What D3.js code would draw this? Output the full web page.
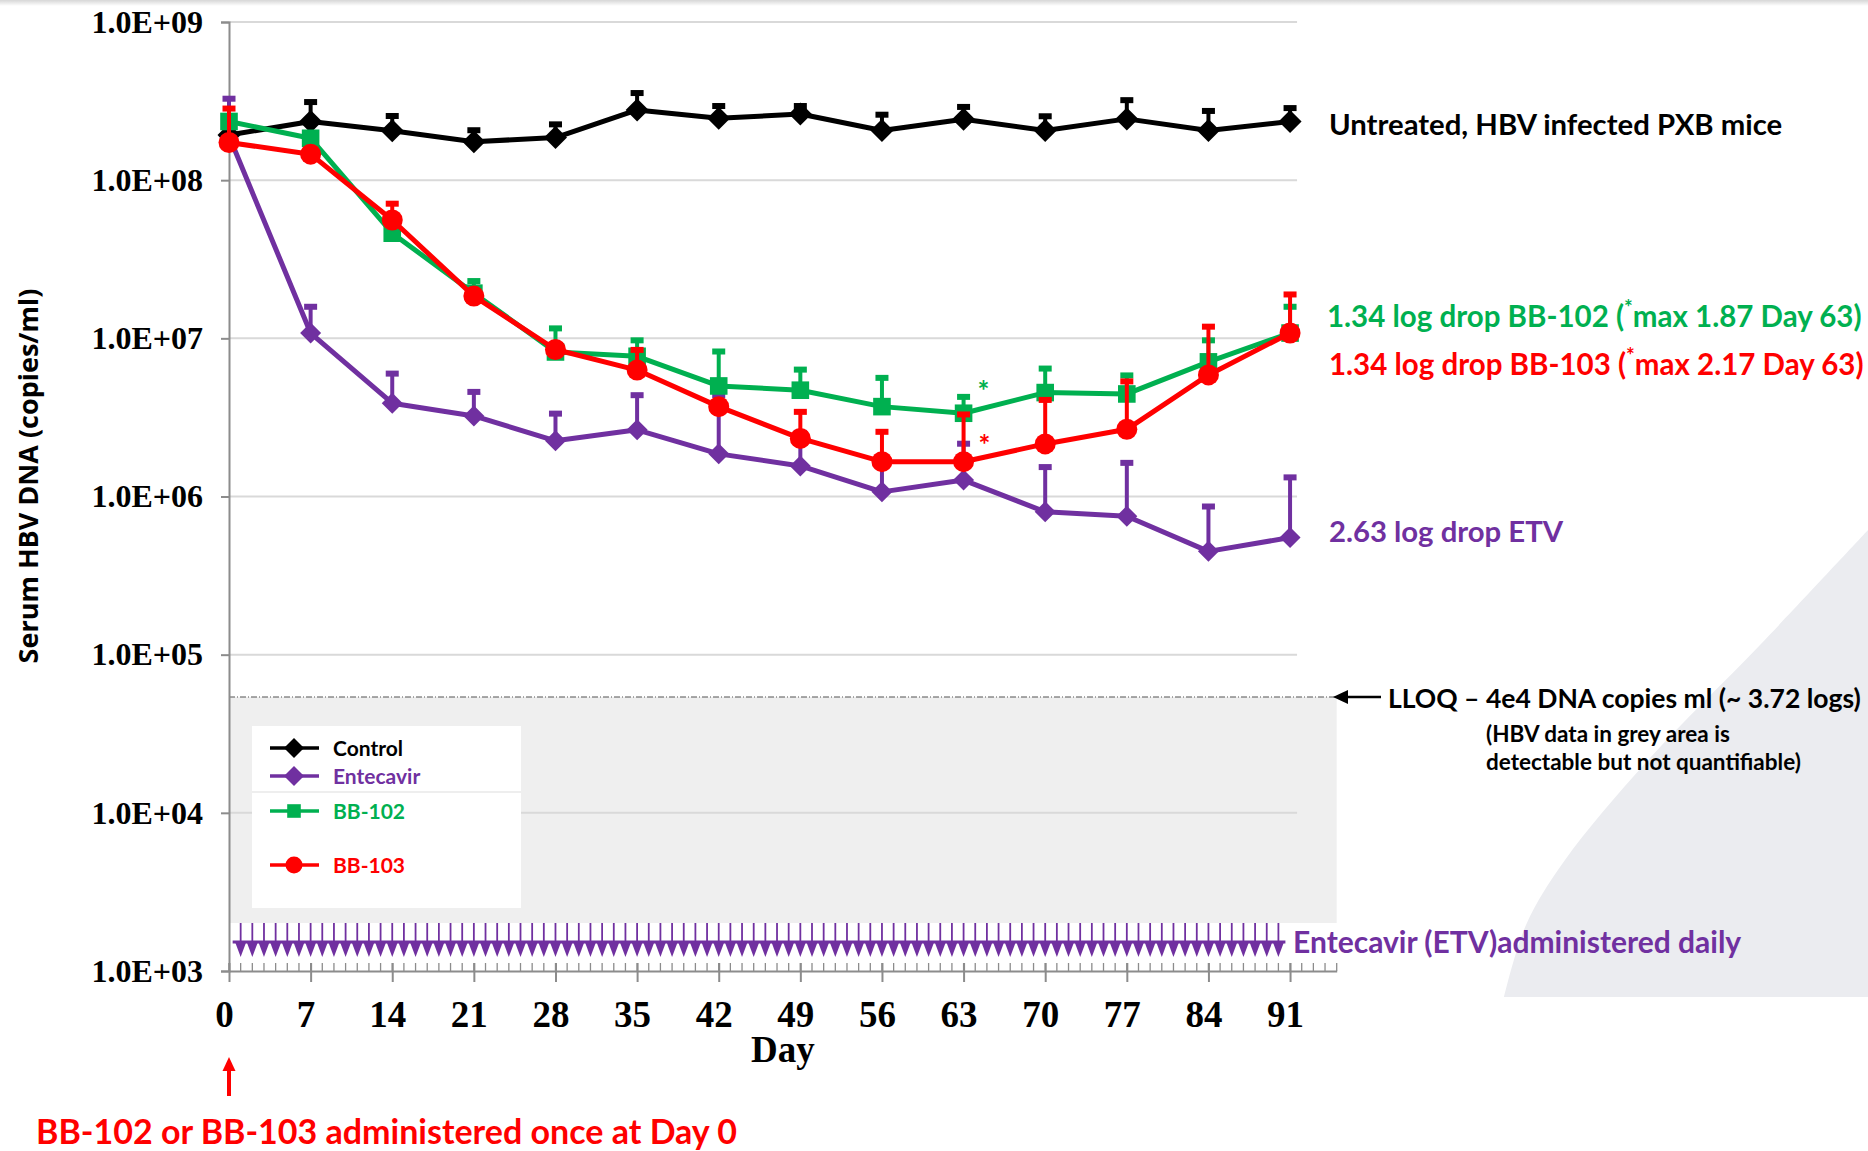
<!DOCTYPE html>
<html>
<head>
<meta charset="utf-8">
<script src="https://cdn.jsdelivr.net/npm/d3@7"></script>
<style>
  body { margin: 0; background: #ffffff; }
  svg { display: block; }
</style>
</head>
<body>
<svg id="chart" width="1868" height="1151"></svg>
<script>
// ---- data: serum HBV DNA (copies/ml), mean and upper error bar per study day ----
const days = [0, 7, 14, 21, 28, 35, 42, 49, 56, 63, 70, 77, 84, 91];

const control      = [1.93e8, 2.35e8, 2.05e8, 1.75e8, 1.86e8, 2.78e8, 2.46e8, 2.62e8, 2.06e8, 2.43e8, 2.06e8, 2.44e8, 2.06e8, 2.35e8];
const controlUpper = [null,   3.21e8, 2.62e8, 2.13e8, 2.32e8, 3.66e8, 3.03e8, 3.03e8, 2.67e8, 2.99e8, 2.61e8, 3.30e8, 2.82e8, 2.94e8];

const entecavir      = [1.90e8, 1.08e7, 3.89e6, 3.23e6, 2.25e6, 2.64e6, 1.86e6, 1.56e6, 1.07e6, 1.27e6, 8.0e5, 7.5e5, 4.5e5, 5.5e5];
const entecavirUpper = [3.37e8, 1.63e7, 6.16e6, 4.72e6, 3.44e6, 4.5e6,  4.5e6,  2.6e6,  1.7e6,  2.22e6, 1.58e6, 1.68e6, 8.9e5, 1.36e6];

const bb102      = [2.35e8, 1.84e8, 4.62e7, 1.93e7, 8.2e6,  7.7e6,  5.0e6, 4.7e6,  3.7e6,  3.36e6, 4.54e6, 4.45e6, 7.1e6, 1.08e7];
const bb102Upper = [null,   null,   null,   2.37e7, 1.19e7, 1.0e7,  8.5e6, 6.53e6, 5.79e6, 4.39e6, 6.63e6, 6.0e6,  1.0e7, 1.63e7];

const bb103      = [1.73e8, 1.46e8, 5.6e7,  1.85e7, 8.5e6, 6.3e6, 3.7e6, 2.33e6, 1.66e6, 1.66e6, 2.15e6, 2.66e6, 5.87e6, 1.08e7];
const bb103Upper = [2.92e8, null,   7.31e7, null,   null,  8.7e6, null,  3.53e6, 2.64e6, 3.4e6,  4.2e6,  5.5e6,  1.22e7, 1.95e7];

const seriesNames = ["Control", "Entecavir", "BB-102", "BB-103"];
const yTickValues = [1e3, 1e4, 1e5, 1e6, 1e7, 1e8, 1e9];
const yTickLabels = ["1.0E+03", "1.0E+04", "1.0E+05", "1.0E+06", "1.0E+07", "1.0E+08", "1.0E+09"];
const xTickValues = [0, 7, 14, 21, 28, 35, 42, 49, 56, 63, 70, 77, 84, 91];
const lloq = 5.4e4;               // lower limit of quantification line
const etvFirstDay = 1, etvLastDay = 90;   // daily entecavir dosing window

// ---- colours & fonts ----
const C = { black: "#000000", purple: "#7030a0", green: "#00b050", red: "#ff0000" };
const SERIF = "'Liberation Serif', 'Times New Roman', serif";
const SANS = "Lato, 'Open Sans', sans-serif";

const svg = d3.select("#chart");

// ---- scales ----
const x = d3.scaleLinear().domain([0, 95]).range([229, 229 + 95 * 11.66]);
const y = d3.scaleLog().domain([1e3, 1e9]).range([971, 22]);

// faint shadow along the top edge
const defs = svg.append("defs");
const grad = defs.append("linearGradient").attr("id", "topShade").attr("x1", 0).attr("x2", 0).attr("y1", 0).attr("y2", 1);
grad.append("stop").attr("offset", "0%").attr("stop-color", "#000").attr("stop-opacity", 0.16);
grad.append("stop").attr("offset", "100%").attr("stop-color", "#000").attr("stop-opacity", 0);
svg.append("rect").attr("x", 0).attr("y", 0).attr("width", 1868).attr("height", 6).attr("fill", "url(#topShade)");

// decorative curved panel in the lower right corner
const swoosh = [[1868, 530], [1760, 645], [1650, 758], [1565, 860], [1526, 925], [1504, 997]];
svg.append("path")
  .attr("d", d3.line().curve(d3.curveCatmullRom)(swoosh) + "L1868,997Z")
  .attr("fill", "#ebecf0");

// ---- grey "detectable but not quantifiable" band under the LLOQ ----
const etvTop = 923, etvBar = 942, etvTip = 957;
svg.append("rect")
  .attr("x", x(0)).attr("y", y(lloq))
  .attr("width", x(95) - x(0)).attr("height", etvTop - y(lloq))
  .attr("fill", "#efefef");

// ---- horizontal gridlines ----
svg.append("g").selectAll("line").data(yTickValues.filter(v => v > 1e3)).join("line")
  .attr("x1", x(0)).attr("x2", x(91) + 7)
  .attr("y1", d => y(d)).attr("y2", d => y(d))
  .attr("stroke", "#d9d9d9").attr("stroke-width", 2);

// LLOQ dash-dot line
svg.append("line")
  .attr("x1", x(0)).attr("x2", x(95)).attr("y1", y(lloq)).attr("y2", y(lloq))
  .attr("stroke", "#555").attr("stroke-width", 1.2).attr("stroke-dasharray", "6,2,1,2");

// ---- legend box ----
const lg = svg.append("g");
lg.append("rect").attr("x", 252).attr("y", 726).attr("width", 269).attr("height", 182).attr("fill", "#ffffff");
lg.append("line").attr("x1", 252).attr("x2", 521).attr("y1", 792).attr("y2", 792).attr("stroke", "#eeeeee").attr("stroke-width", 2);

// ---- axes ----
const yAxis = d3.axisLeft(y).tickValues(yTickValues)
  .tickFormat((d, i) => yTickLabels[i]).tickSize(8).tickPadding(18);
const gy = svg.append("g").attr("transform", `translate(${x(0)},0)`).call(yAxis);
gy.select(".domain").attr("stroke", "#8c8c8c").attr("stroke-width", 2);
gy.selectAll(".tick line").attr("stroke", "#8c8c8c").attr("stroke-width", 2);
gy.selectAll("text").attr("font-family", SERIF).attr("font-weight", "bold")
  .attr("font-size", 32).attr("fill", "#000");

const xAxis = d3.axisBottom(x).tickValues(xTickValues).tickSize(11).tickPadding(19).tickSizeOuter(0);
const gx = svg.append("g").attr("transform", `translate(0,${y(1e3)})`).call(xAxis);
gx.select(".domain").attr("stroke", "#8c8c8c").attr("stroke-width", 2);
gx.selectAll(".tick line").attr("stroke", "#8c8c8c").attr("stroke-width", 2).attr("y1", -8);
gx.selectAll("text").attr("font-family", SERIF).attr("font-weight", "bold")
  .attr("font-size", 37).attr("fill", "#000").attr("dx", -5);

// daily minor ticks
svg.append("g").selectAll("line").data(d3.range(0, 96)).join("line")
  .attr("x1", d => x(d)).attr("x2", d => x(d))
  .attr("y1", y(1e3) - 8).attr("y2", y(1e3))
  .attr("stroke", "#8c8c8c").attr("stroke-width", 1.3);

svg.append("text").attr("x", (x(0) + x(95)) / 2).attr("y", 1062)
  .attr("text-anchor", "middle").attr("font-family", SERIF).attr("font-weight", "bold")
  .attr("font-size", 37).text("Day");

svg.append("text")
  .attr("transform", "translate(27,476) rotate(-90)")
  .attr("text-anchor", "middle").attr("dominant-baseline", "central")
  .attr("font-family", "'Open Sans', sans-serif").attr("font-weight", "bold")
  .attr("font-size", 27).text("Serum HBV DNA (copies/ml)");

// ---- daily entecavir dosing arrows ----
const etvDays = d3.range(etvFirstDay, etvLastDay + 1);
const etv = svg.append("g").attr("fill", C.purple).attr("stroke", C.purple);
etv.selectAll("line.v").data(etvDays).join("line").attr("class", "v")
  .attr("x1", d => x(d)).attr("x2", d => x(d)).attr("y1", etvTop).attr("y2", etvBar)
  .attr("stroke-width", 1.8);
etv.append("line").attr("x1", x(etvFirstDay) - 8).attr("x2", x(etvLastDay) + 7)
  .attr("y1", etvBar).attr("y2", etvBar).attr("stroke-width", 3);
etv.selectAll("path").data(etvDays).join("path")
  .attr("stroke", "none")
  .attr("d", d => `M${x(d) - 5.6},${etvBar}L${x(d) + 5.6},${etvBar}L${x(d)},${etvTip}Z`);

// ---- marker shapes ----
function markerPath(shape, s) {
  if (shape === "diamond") return `M0,${-s}L${s},0L0,${s}L${-s},0Z`;
  if (shape === "square") return `M${-s * 0.8},${-s * 0.8}H${s * 0.8}V${s * 0.8}H${-s * 0.8}Z`;
  return d3.symbol(d3.symbolCircle, Math.PI * s * s)();
}

const series = [
  { name: seriesNames[1], values: entecavir, upper: entecavirUpper, color: C.purple, shape: "diamond", size: 10.5 },
  { name: seriesNames[0], values: control,   upper: controlUpper,   color: C.black,  shape: "diamond", size: 11.5 },
  { name: seriesNames[2], values: bb102,     upper: bb102Upper,     color: C.green,  shape: "square",  size: 11 },
  { name: seriesNames[3], values: bb103,     upper: bb103Upper,     color: C.red,    shape: "circle",  size: 10.5 }
];

const line = d3.line().x((d, i) => x(days[i])).y(d => y(d));

series.forEach(s => {
  const g = svg.append("g");
  const pts = days.map((d, i) => ({ day: d, v: s.values[i], u: s.upper[i] }));
  // upper error bars
  const eb = pts.filter(p => p.u != null);
  g.selectAll("line.err").data(eb).join("line").attr("class", "err")
    .attr("x1", p => x(p.day)).attr("x2", p => x(p.day))
    .attr("y1", p => y(p.v)).attr("y2", p => y(p.u))
    .attr("stroke", s.color).attr("stroke-width", 4);
  g.selectAll("rect.cap").data(eb).join("rect").attr("class", "cap")
    .attr("x", p => x(p.day) - 6.5).attr("y", p => y(p.u) - 1).attr("width", 13).attr("height", 6)
    .attr("fill", s.color);
  // connecting line
  g.append("path").attr("d", line(s.values)).attr("fill", "none")
    .attr("stroke", s.color).attr("stroke-width", 5).attr("stroke-linejoin", "round");
  // markers
  g.selectAll("path.m").data(pts).join("path").attr("class", "m")
    .attr("transform", p => `translate(${x(p.day)},${y(p.v)})`)
    .attr("d", markerPath(s.shape, s.size)).attr("fill", s.color);
});

// significance asterisks at day 63
svg.append("text").attr("x", x(63) + 14).attr("y", y(bb102[9]) - 12)
  .attr("font-family", SANS).attr("font-weight", "bold").attr("font-size", 28)
  .attr("fill", C.green).text("*");
svg.append("text").attr("x", x(63) + 15).attr("y", y(bb103[9]) - 7)
  .attr("font-family", SANS).attr("font-weight", "bold").attr("font-size", 28)
  .attr("fill", C.red).text("*");

// ---- legend entries ----
const legendItems = [
  { name: seriesNames[0], color: C.black,  shape: "diamond", size: 10, yy: 748 },
  { name: seriesNames[1], color: C.purple, shape: "diamond", size: 10, yy: 776 },
  { name: seriesNames[2], color: C.green,  shape: "square",  size: 8.5, yy: 811 },
  { name: seriesNames[3], color: C.red,    shape: "circle",  size: 8.5, yy: 865 }
];
legendItems.forEach(it => {
  lg.append("line").attr("x1", 270).attr("x2", 319).attr("y1", it.yy).attr("y2", it.yy)
    .attr("stroke", it.color).attr("stroke-width", 3.5);
  lg.append("path").attr("transform", `translate(294,${it.yy})`)
    .attr("d", markerPath(it.shape, it.size)).attr("fill", it.color);
  lg.append("text").attr("x", 333).attr("y", it.yy + 7.5)
    .attr("font-family", SANS).attr("font-weight", "bold").attr("font-size", 21)
    .attr("fill", it.color).text(it.name);
});

// ---- annotations ----
function note(tx, ty, color, size, parts) {
  const t = svg.append("text").attr("x", tx).attr("y", ty)
    .attr("font-family", SANS).attr("font-weight", "bold").attr("font-size", size).attr("fill", color);
  parts.forEach(p => {
    const ts = t.append("tspan").text(p.t);
    if (p.sup) ts.attr("font-size", size * 0.7).attr("dy", -size * 0.4);
    if (p.after) ts.attr("dy", size * 0.4);
  });
  return t;
}
note(1329, 135, C.black, 29.3, [{ t: "Untreated, HBV infected PXB mice" }]);
note(1327, 327, C.green, 29.5, [{ t: "1.34 log drop BB-102 (" }, { t: "*", sup: true }, { t: "max 1.87 Day 63)", after: true }]);
note(1329, 375, C.red, 29.5, [{ t: "1.34 log drop BB-103 (" }, { t: "*", sup: true }, { t: "max 2.17 Day 63)", after: true }]);
note(1329, 542, C.purple, 29.3, [{ t: "2.63 log drop ETV" }]);
note(1388, 708, C.black, 26.5, [{ t: "LLOQ – 4e4 DNA copies ml (~ 3.72 logs)" }]);
note(1486, 742, C.black, 22.5, [{ t: "(HBV data in grey area is" }]);
note(1486, 770, C.black, 22.5, [{ t: "detectable but not quantifiable)" }]);
note(1293, 953, C.purple, 30, [{ t: "Entecavir (ETV)administered daily" }]);
note(36, 1144, C.red, 34, [{ t: "BB-102 or BB-103 administered once at Day 0" }]);

// LLOQ pointer arrow
svg.append("line").attr("x1", 1342).attr("x2", 1381).attr("y1", y(lloq)).attr("y2", y(lloq))
  .attr("stroke", "#000").attr("stroke-width", 2.5);
svg.append("path").attr("d", `M1333,${y(lloq)}L1348,${y(lloq) - 7}L1348,${y(lloq) + 7}Z`).attr("fill", "#000");

// day-0 single dose arrow
svg.append("line").attr("x1", x(0)).attr("x2", x(0)).attr("y1", 1068).attr("y2", 1096)
  .attr("stroke", C.red).attr("stroke-width", 4);
svg.append("path").attr("d", `M${x(0)},1057L${x(0) + 6.5},1071L${x(0) - 6.5},1071Z`).attr("fill", C.red);
</script>
</body>
</html>
